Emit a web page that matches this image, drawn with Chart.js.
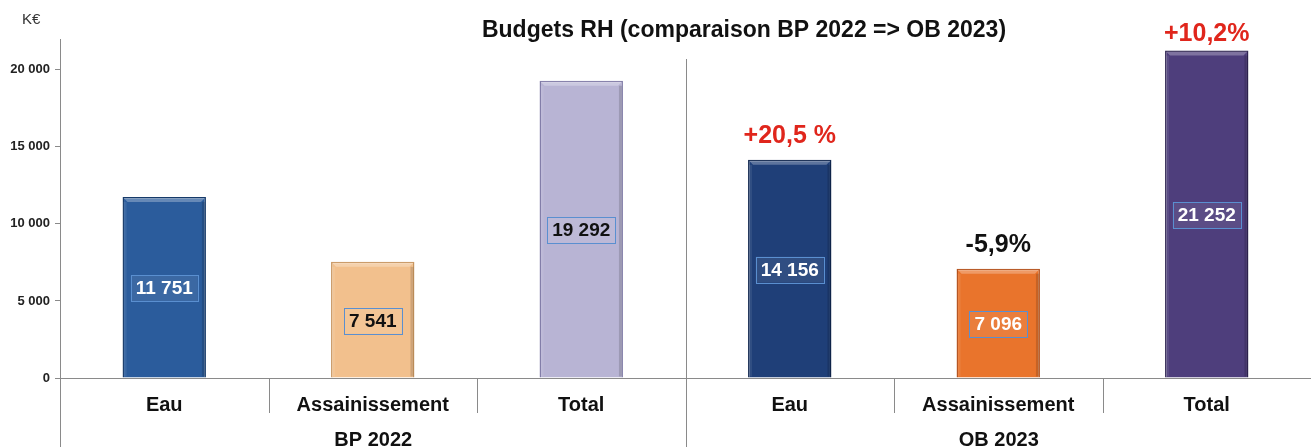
<!DOCTYPE html>
<html>
<head>
<meta charset="utf-8">
<script src="https://cdn.jsdelivr.net/npm/chart.js@4/dist/chart.umd.min.js"></script>
<style>
  html, body { margin: 0; padding: 0; background: #fff; }
  #wrap { width: 1311px; height: 447px; }
</style>
</head>
<body>
<div id="wrap"><canvas id="rhChart" width="1311" height="447"></canvas></div>
<script>
// ---- data ----
const categories = ['Eau', 'Assainissement', 'Total', 'Eau', 'Assainissement', 'Total'];
const groups = ['BP 2022', 'OB 2023'];
const bp2022 = [11751, 7541, 19292];
const ob2023 = [14156, 7096, 21252];
const yTicks = [0, 5000, 10000, 15000, 20000];
const changeLabels = ['', '', '', '+20,5 %', '-5,9%', '+10,2%'];

const BAR_COLORS = ['#2b5c9c', '#f2c08d', '#b8b4d4', '#1f3f78', '#e9742c', '#4e3e7c'];
const BAR_BORDERS = ['#163a6a', '#c8955f', '#7f7aa6', '#10264e', '#b4501a', '#2f2452'];
const LABEL_TEXT = ['#fff', '#111', '#111', '#fff', '#fff', '#fff'];
const CHANGE_COLORS = ['', '', '', '#e0261c', '#111', '#e0261c'];
const FONT = '"Liberation Sans", Arial, sans-serif';

function fmt(v) {
  return String(v).replace(/\B(?=(\d{3})+(?!\d))/g, ' ');
}

// decorations: bevel, title, unit, boxed value labels, % changes, separators, group labels
const decorPlugin = {
  id: 'decor',
  afterDatasetsDraw(chart) {
    const { ctx, chartArea, scales: { x } } = chart;
    const meta = chart.getDatasetMeta(0);
    const values = chart.data.datasets[0].data;
    ctx.save();

    // light bevel on top / left, shade on right
    meta.data.forEach((bar) => {
      const l = bar.x - bar.width / 2, r = bar.x + bar.width / 2, t = bar.y;
      ctx.fillStyle = 'rgba(255,255,255,0.28)';
      ctx.beginPath();
      ctx.moveTo(l + 1, t + 1); ctx.lineTo(r - 1, t + 1);
      ctx.lineTo(r - 5, t + 5); ctx.lineTo(l + 5, t + 5);
      ctx.closePath(); ctx.fill();
      ctx.fillStyle = 'rgba(0,0,0,0.15)';
      ctx.fillRect(r - 4, t + 5, 3, bar.base - t - 6);
      ctx.fillStyle = 'rgba(255,255,255,0.08)';
      ctx.fillRect(l + 1, t + 5, 3, bar.base - t - 6);
    });

    // boxed values inside bars
    ctx.font = 'bold 19px ' + FONT;
    ctx.textAlign = 'center';
    ctx.textBaseline = 'middle';
    meta.data.forEach((bar, i) => {
      const txt = fmt(values[i]);
      const cy = (bar.y + bar.base) / 2 + 1;
      const w = ctx.measureText(txt).width + 10;
      ctx.fillStyle = 'rgba(255,255,255,0.08)';
      ctx.fillRect(bar.x - w / 2, cy - 13, w, 26);
      ctx.strokeStyle = '#5a8fd0';
      ctx.lineWidth = 1;
      ctx.strokeRect(Math.round(bar.x - w / 2) + 0.5, Math.round(cy - 13) + 0.5, Math.round(w), 26);
      ctx.fillStyle = LABEL_TEXT[i];
      ctx.fillText(txt, bar.x, cy + 1);
    });

    // % change above bars
    ctx.font = 'bold 25px ' + FONT;
    meta.data.forEach((bar, i) => {
      if (!changeLabels[i]) return;
      ctx.fillStyle = CHANGE_COLORS[i];
      ctx.fillText(changeLabels[i], bar.x, Math.max(bar.y - 24, 34));
    });

    // separators
    ctx.strokeStyle = '#8a8a8a';
    ctx.lineWidth = 1;
    const n = categories.length;
    const bounds = [];
    for (let i = 0; i < n - 1; i++) {
      bounds.push(Math.round((x.getPixelForValue(i) + x.getPixelForValue(i + 1)) / 2) + 0.5);
    }
    bounds.forEach((bx, i) => {
      ctx.beginPath();
      if (i === 2) {
        ctx.moveTo(bx, chartArea.top + 20);
        ctx.lineTo(bx, chart.height);
      } else {
        ctx.moveTo(bx, chartArea.bottom);
        ctx.lineTo(bx, chartArea.bottom + 35);
      }
      ctx.stroke();
    });
    // y axis continues below the plot
    ctx.beginPath();
    ctx.moveTo(chartArea.left + 0.5, chartArea.bottom);
    ctx.lineTo(chartArea.left + 0.5, chart.height);
    ctx.stroke();

    // group labels
    ctx.font = 'bold 20px ' + FONT;
    ctx.fillStyle = '#111';
    const gx = [[chartArea.left, bounds[2]], [bounds[2], chartArea.right]];
    groups.forEach((g, i) => {
      ctx.fillText(g, (gx[i][0] + gx[i][1]) / 2, 440);
    });

    // title and unit
    ctx.font = 'bold 23px ' + FONT;
    ctx.fillText('Budgets RH (comparaison BP 2022 => OB 2023)', 744, 31);
    ctx.font = '15px ' + FONT;
    ctx.fillStyle = '#333';
    ctx.textAlign = 'left';
    ctx.fillText('K€', 22, 20);
    ctx.restore();
  }
};

new Chart(document.getElementById('rhChart'), {
  type: 'bar',
  data: {
    labels: categories,
    datasets: [{
      data: bp2022.concat(ob2023),
      backgroundColor: BAR_COLORS,
      borderColor: BAR_BORDERS,
      borderWidth: 1.5,
      barPercentage: 0.4,
      categoryPercentage: 1
    }]
  },
  options: {
    responsive: false,
    animation: false,
    layout: { padding: { top: 39, right: 0, left: 0, bottom: 0 } },
    scales: {
      x: {
        grid: { display: true, drawOnChartArea: false, drawTicks: false },
        border: { display: true, color: '#8a8a8a' },
        ticks: { color: '#111', font: { family: FONT, size: 20, weight: 'bold' }, padding: 15 },
        afterFit: (s) => { s.height = 69; }
      },
      y: {
        min: 0,
        max: 22000,
        afterBuildTicks: (s) => { s.ticks = yTicks.map(v => ({ value: v })); },
        grid: { drawOnChartArea: false, drawTicks: true, tickLength: 5, color: '#8a8a8a' },
        border: { display: true, color: '#8a8a8a' },
        ticks: {
          color: '#222',
          padding: 5,
          font: { family: FONT, size: 13, weight: 'bold' },
          callback: (v) => fmt(v)
        },
        afterFit: (s) => { s.width = 60; }
      }
    },
    plugins: {
      legend: { display: false },
      tooltip: { enabled: false }
    }
  },
  plugins: [decorPlugin]
});
</script>
</body>
</html>
